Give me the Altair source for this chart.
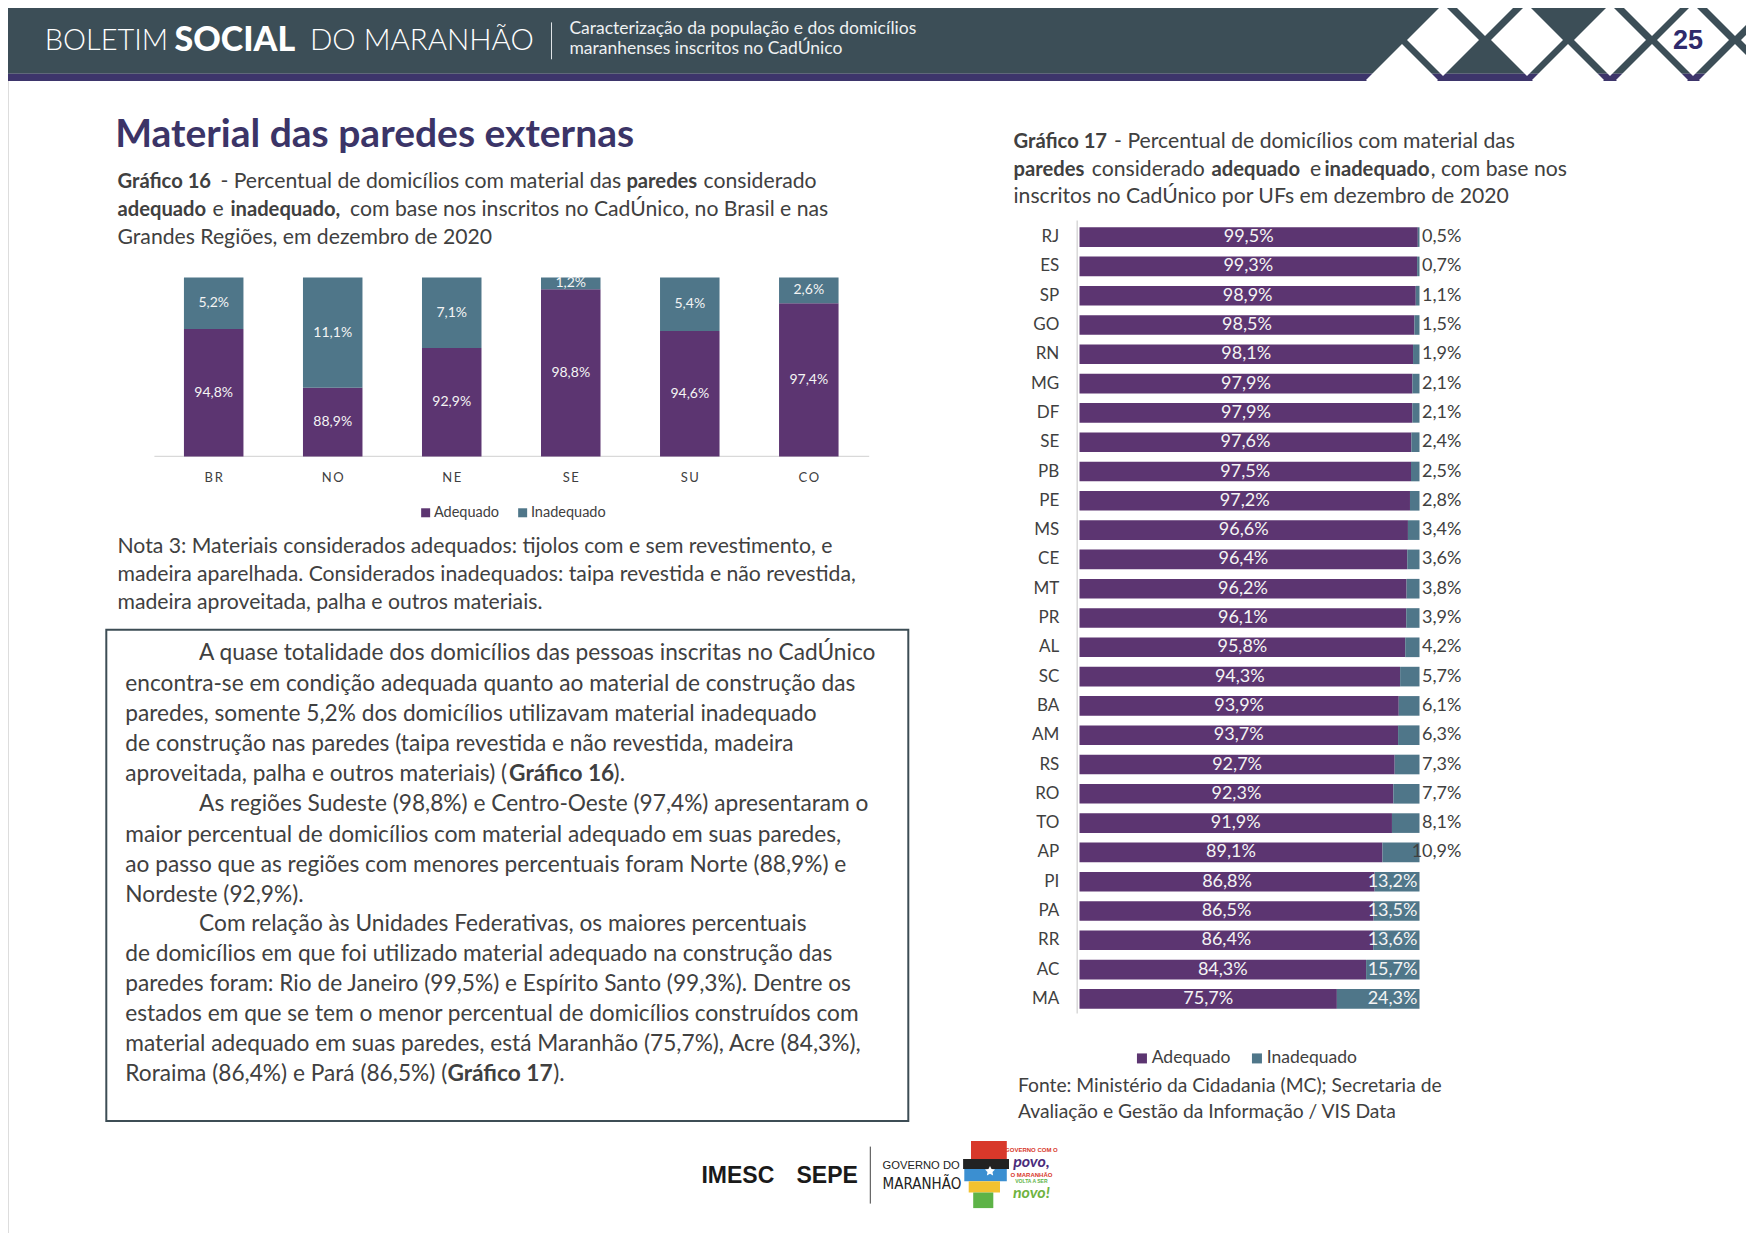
import altair as alt
import pandas as pd

# ---------------- data ----------------
regioes = ["BR", "NO", "NE", "SE", "SU", "CO"]
reg_adequado = [94.8, 88.9, 92.9, 98.8, 94.6, 97.4]
reg_inadequado = [5.2, 11.1, 7.1, 1.2, 5.4, 2.6]
reg_eixo = [82, 100]  # value axis of Gráfico 16

ufs = ["RJ", "ES", "SP", "GO", "RN", "MG", "DF", "SE", "PB", "PE", "MS", "CE", "MT", "PR",
       "AL", "SC", "BA", "AM", "RS", "RO", "TO", "AP", "PI", "PA", "RR", "AC", "MA"]
uf_adequado = [99.5, 99.3, 98.9, 98.5, 98.1, 97.9, 97.9, 97.6, 97.5, 97.2, 96.6, 96.4, 96.2, 96.1,
               95.8, 94.3, 93.9, 93.7, 92.7, 92.3, 91.9, 89.1, 86.8, 86.5, 86.4, 84.3, 75.7]
uf_inadequado = [0.5, 0.7, 1.1, 1.5, 1.9, 2.1, 2.1, 2.4, 2.5, 2.8, 3.4, 3.6, 3.8, 3.9,
                 4.2, 5.7, 6.1, 6.3, 7.3, 7.7, 8.1, 10.9, 13.2, 13.5, 13.6, 15.7, 24.3]

categorias = ["Adequado", "Inadequado"]
cores = ["#5c3571", "#4f7689"]

FONT = "Lato"
DARK = "#404040"
HEADER = "#3c4e57"
STRIPE = "#3d356b"
TITLE = "#3b3467"


def px(v):
    """reference-page pixel (shrunk view) -> chart pixel"""
    return round(v * 1754 / 1568 - 8, 1)


def fmt(v):
    return f"{v:.1f}".replace(".", ",") + "%"


ONE = alt.Data(values=[{"k": 0}])


def txt(s, x, y, size, color=DARK, weight="normal", align="left", font=FONT, style="normal"):
    return alt.Chart(ONE).mark_text(
        text=s, fontSize=size, color=color, fontWeight=weight, align=align,
        baseline="middle", font=font, fontStyle=style
    ).encode(x=alt.value(x), y=alt.value(y))


def rect(x1, x2, y1, y2, fill="white", stroke="white", sw=0):
    return alt.Chart(ONE).mark_rect(fill=fill, stroke=stroke, strokeWidth=sw).encode(
        x=alt.value(x1), x2=alt.value(x2), y=alt.value(y1), y2=alt.value(y2))


def rule(x1, x2, y1, y2, color, sw=1):
    return alt.Chart(ONE).mark_rule(color=color, strokeWidth=sw).encode(
        x=alt.value(x1), x2=alt.value(x2), y=alt.value(y1), y2=alt.value(y2))


def diamond(x, y, size, color="white"):
    return alt.Chart(ONE).mark_point(shape="diamond", filled=True, size=size, color=color,
                                     opacity=1, strokeWidth=0).encode(x=alt.value(x), y=alt.value(y))


# ---------------- tables ----------------
rows16 = []
for r, a, i in zip(regioes, reg_adequado, reg_inadequado):
    rows16.append(dict(regiao=r, categoria="Adequado", ini=reg_eixo[0], fim=a,
                       meio=(reg_eixo[0] + a) / 2, rotulo=fmt(a)))
    rows16.append(dict(regiao=r, categoria="Inadequado", ini=a, fim=a + i,
                       meio=a + i / 2, rotulo=fmt(i)))
df16 = pd.DataFrame(rows16)
df16_cat = pd.DataFrame({"regiao": regioes, "nome": ["\u2009".join(r) for r in regioes]})

rows17 = []
for u, a, i in zip(ufs, uf_adequado, uf_inadequado):
    rows17.append(dict(uf=u, categoria="Adequado", ini=0, fim=a, meio=a / 2, rotulo=fmt(a), inad=i))
    rows17.append(dict(uf=u, categoria="Inadequado", ini=a, fim=a + i, meio=a + i / 2, rotulo=fmt(i), inad=i))
df17 = pd.DataFrame(rows17)
df17_a = df17[df17.categoria == "Adequado"]
df17_in = df17[(df17.categoria == "Inadequado") & (df17.inad > 12)]
df17_out = df17[(df17.categoria == "Inadequado") & (df17.inad <= 12)]
df17_uf = pd.DataFrame({"uf": ufs})

# ---------------- scales ----------------
c0, c1 = px(191), px(723)
st16 = (c1 - c0) / 5
X16 = alt.Scale(domain=regioes, range=[c0 - st16 / 2, c1 + st16 / 2], paddingInner=0.5, paddingOuter=0.25)
Y16 = alt.Scale(domain=reg_eixo, range=[px(408), px(248)])

r0, r1 = px(212), px(893)
st17 = (r1 - r0) / 26
Y17 = alt.Scale(domain=ufs, range=[r0 - st17 / 2, r1 + st17 / 2], paddingInner=0.33, paddingOuter=0.165)
X17 = alt.Scale(domain=[0, 100], range=[px(965), px(1269)])

COR16 = alt.Scale(domain=categorias, range=cores)
COR17 = alt.Scale(domain=categorias, range=cores)

layers = []

# ---------------- header ----------------
layers.append(rect(0, 1738, -8, px(66), fill=HEADER, stroke=HEADER))
layers.append(rect(0, 1738, px(66), px(72.3), fill=STRIPE, stroke=STRIPE))
DS = 5184
for xf in [1443, 1527, 1610, 1693, 1777]:
    layers.append(diamond(xf - 8, 32, DS))
for xf in [1402, 1568, 1652, 1735]:
    layers.append(diamond(xf - 8, 72, DS))
for xf in [1485, 1652, 1735]:
    layers.append(diamond(xf - 8, -8, DS))
layers.append(txt("25", 1680, 33, 27, color="#2e2a6c", weight="bold", align="center", font="Liberation Sans"))

layers.append(txt("BOLETIM", px(40), px(37), 29, color="white", weight=300))
layers.append(txt("SOCIAL", px(156), px(37), 34, color="white", weight=900))
layers.append(txt("DO MARANHÃO", px(277), px(37), 29.5, color="white", weight=300))
layers.append(rule(px(493), px(493), px(20), px(53), "#dfe4e7", 1))
layers.append(txt("Caracterização da população e dos domicílios", px(509), px(25.5), 17.5, color="#eef1f2"))
layers.append(txt("maranhenses inscritos no CadÚnico", px(509), px(43.5), 17.5, color="#eef1f2"))

# ---------------- left column ----------------
layers.append(txt("Material das paredes externas", px(103), px(121), 39, color=TITLE, weight="bold"))

CAP = 21.2
CAPB = 20.2
cap16 = [
    ("Gráfico 16", 105, 163, "bold"),
    ("- Percentual de domicílios com material das", 197, 163, "normal"),
    ("paredes", 560, 163, "bold"),
    ("considerado", 629, 163, "normal"),
    ("adequado", 105, 188, "bold"),
    ("e", 190, 188, "normal"),
    ("inadequado,", 206, 188, "bold"),
    ("com base nos inscritos no CadÚnico, no Brasil e nas", 313, 188, "normal"),
    ("Grandes Regiões, em dezembro de 2020", 105, 213, "normal"),
]
for s, x, y, w in cap16:
    layers.append(txt(s, px(x), px(y), CAPB if w == "bold" else CAP, weight=w))

# Gráfico 16
layers.append(rule(px(138), px(777), px(408), px(408), "#d9d9d9", 1.2))
layers.append(alt.Chart(df16).mark_bar().encode(
    x=alt.X("regiao:N", scale=X16, axis=None),
    y=alt.Y("ini:Q", scale=Y16, axis=None),
    y2="fim:Q",
    color=alt.Color("categoria:N", scale=COR16, legend=alt.Legend(
        orient="none", legendX=px(374), legendY=px(459) - 8, direction="horizontal", title=None,
        symbolType="square", symbolSize=81, symbolStrokeWidth=0, labelFont=FONT, labelFontSize=14.5,
        labelColor=DARK, labelOffset=1, columnPadding=16, padding=0)),
))
layers.append(alt.Chart(df16).mark_text(font=FONT, fontSize=14, color="#f4f4f4", baseline="middle").encode(
    x=alt.X("regiao:N", scale=X16, axis=None),
    y=alt.Y("meio:Q", scale=Y16, axis=None),
    text="rotulo:N"))
layers.append(alt.Chart(df16_cat).mark_text(font=FONT, fontSize=13, color=DARK, baseline="middle").encode(
    x=alt.X("regiao:N", scale=X16, axis=None),
    y=alt.value(px(427)),
    text="nome:N"))

# Nota 3
nota = ["Nota 3: Materiais considerados adequados: tijolos com e sem revestimento, e",
        "madeira aparelhada. Considerados inadequados: taipa revestida e não revestida,",
        "madeira aproveitada, palha e outros materiais."]
for k, s in enumerate(nota):
    layers.append(txt(s, px(105), px(489 + 25 * k), CAP))

# text box
layers.append(rect(px(95), px(812), px(563), px(1002), fill="white", stroke="#3d4d55", sw=2))
PAR = 22.7
k = PAR / 21
par = [
    ("A quase totalidade dos domicílios das pessoas inscritas no CadÚnico", True),
    ("encontra-se em condição adequada quanto ao material de construção das", False),
    ("paredes, somente 5,2% dos domicílios utilizavam material inadequado", False),
    ("de construção nas paredes (taipa revestida e não revestida, madeira", False),
    (None, False),
    ("As regiões Sudeste (98,8%) e Centro-Oeste (97,4%) apresentaram o", True),
    ("maior percentual de domicílios com material adequado em suas paredes,", False),
    ("ao passo que as regiões com menores percentuais foram Norte (88,9%) e", False),
    ("Nordeste (92,9%).", False),
    ("Com relação às Unidades Federativas, os maiores percentuais", True),
    ("de domicílios em que foi utilizado material adequado na construção das", False),
    ("paredes foram: Rio de Janeiro (99,5%) e Espírito Santo (99,3%). Dentre os", False),
    ("estados em que se tem o menor percentual de domicílios construídos com", False),
    ("material adequado em suas paredes, está Maranhão (75,7%), Acre (84,3%),", False),
    (None, False),
]
par_y = [584, 611, 638, 665, 692, 719, 746, 773, 800, 826, 853, 880, 906, 933, 960]
for (s, ind), y in zip(par, par_y):
    if s:
        layers.append(txt(s, px(178 if ind else 112), px(y), PAR))
# lines with a bold reference, chained after the regular part
b5 = 112 + 316 * k + 1.5
layers.append(txt("aproveitada, palha e outros materiais) (", px(112), px(692), PAR))
layers.append(txt("Gráfico 16", px(b5), px(692), PAR, weight="bold"))
layers.append(txt(").", px(b5 + 86 * k + 0.5), px(692), PAR))
b15 = 112 + 265 * k + 1.5
layers.append(txt("Roraima (86,4%) e Pará (86,5%) (", px(112), px(960), PAR))
layers.append(txt("Gráfico 17", px(b15), px(960), PAR, weight="bold"))
layers.append(txt(").", px(b15 + 87 * k + 0.5), px(960), PAR))

# ---------------- right column ----------------
cap17 = [
    ("Gráfico 17", 906, 127, "bold"),
    ("- Percentual de domicílios com material das", 996, 127, "normal"),
    ("paredes", 906, 152, "bold"),
    ("considerado", 976, 152, "normal"),
    ("adequado", 1083, 152, "bold"),
    ("e", 1171, 152, "normal"),
    ("inadequado", 1184, 152, "bold"),
    (", com base nos", 1279, 152, "normal"),
    ("inscritos no CadÚnico por UFs em dezembro de 2020", 906, 176, "normal"),
]
for s, x, y, w in cap17:
    layers.append(txt(s, px(x), px(y), CAPB if w == "bold" else CAP, weight=w))

layers.append(rule(px(963), px(963), px(197), px(906), "#d9d9d9", 1.5))
layers.append(alt.Chart(df17).mark_bar().encode(
    y=alt.Y("uf:N", scale=Y17, axis=None),
    x=alt.X("ini:Q", scale=X17, axis=None),
    x2="fim:Q",
    color=alt.Color("categoria:N", scale=COR17, legend=alt.Legend(
        orient="none", legendX=px(1013), legendY=px(947) - 10, direction="horizontal", title=None,
        symbolType="square", symbolSize=100, symbolStrokeWidth=0, labelFont=FONT, labelFontSize=17.5,
        labelColor=DARK, labelOffset=1, columnPadding=17, padding=0)),
))
layers.append(alt.Chart(df17_uf).mark_text(font=FONT, fontSize=17, color=DARK, align="right", baseline="middle").encode(
    y=alt.Y("uf:N", scale=Y17, axis=None), x=alt.value(px(947)), text="uf:N"))
layers.append(alt.Chart(df17_a).mark_text(font=FONT, fontSize=18, color="#f4f4f4", baseline="middle").encode(
    y=alt.Y("uf:N", scale=Y17, axis=None), x=alt.X("meio:Q", scale=X17, axis=None), text="rotulo:N"))
layers.append(alt.Chart(df17_in).mark_text(font=FONT, fontSize=18, color="#f4f4f4", align="right",
                                           baseline="middle", dx=-2).encode(
    y=alt.Y("uf:N", scale=Y17, axis=None), x=alt.X("fim:Q", scale=X17, axis=None), text="rotulo:N"))
layers.append(alt.Chart(df17_out).mark_text(font=FONT, fontSize=18, color=DARK, align="right",
                                            baseline="middle", dx=42).encode(
    y=alt.Y("uf:N", scale=Y17, axis=None), x=alt.X("fim:Q", scale=X17, axis=None), text="rotulo:N"))

layers.append(txt("Fonte: Ministério da Cidadania (MC); Secretaria de", px(910), px(971), 19.3))
layers.append(txt("Avaliação e Gestão da Informação / VIS Data", px(910), px(994), 19.3))

# ---------------- footer ----------------
layers.append(txt("IMESC", px(627), px(1051), 23, color="#1a1a1a", weight="bold", font="Liberation Sans"))
layers.append(txt("SEPE", px(712), px(1051), 23, color="#1a1a1a", weight="bold", font="Liberation Sans"))
layers.append(rule(px(778), px(778), px(1025), px(1076), "#444444", 1))
layers.append(txt("GOVERNO DO", px(789), px(1042), 11.2, color="#222222", font="Liberation Sans"))
layers.append(txt("MARANHÃO", px(789), px(1058), 15, color="#222222",
                  font="DejaVu Sans Condensed, Liberation Sans"))
for (xa, xb, ya, yb, c) in [(868, 900, 1020, 1036, "#d8382a"), (861, 902, 1036, 1045, "#222222"),
                            (862, 900, 1045, 1056, "#3b8fd1"), (866, 894, 1056, 1066, "#f2c230"),
                            (870, 888, 1066, 1080, "#5db347")]:
    layers.append(rect(px(xa), px(xb), px(ya), px(yb), fill=c, stroke=c))
layers.append(alt.Chart(ONE).mark_point(
    shape="M0,-1L0.29,-0.4L0.95,-0.31L0.48,0.15L0.59,0.81L0,0.5L-0.59,0.81L-0.48,0.15L-0.95,-0.31L-0.29,-0.4Z",
    filled=True, size=110, color="white", opacity=1, strokeWidth=0).encode(x=alt.value(px(885)), y=alt.value(px(1047))))
layers.append(txt("GOVERNO COM O", px(922), px(1028), 6, color="#d8382a", weight="bold", align="center", font="Liberation Sans"))
layers.append(txt("povo,", px(922), px(1039), 16, color="#4b2c7c", weight="bold", align="center", style="italic"))
layers.append(txt("O MARANHÃO", px(922), px(1050), 6, color="#d8382a", weight="bold", align="center", font="Liberation Sans"))
layers.append(txt("VOLTA A SER", px(922), px(1056), 5, color="#5db347", weight="bold", align="center", font="Liberation Sans"))
layers.append(txt("novo!", px(922), px(1066), 16, color="#6fb33f", weight="bold", align="center", style="italic"))

chart = alt.layer(*layers).resolve_scale(
    x="independent", y="independent", color="independent"
).properties(
    width=1738, height=1225, padding=0,
    autosize=alt.AutoSizeParams(type="none"),
).configure_view(stroke="transparent").configure(background="white")

chart.save("out.html", embed_options={"renderer": "svg", "actions": False})
